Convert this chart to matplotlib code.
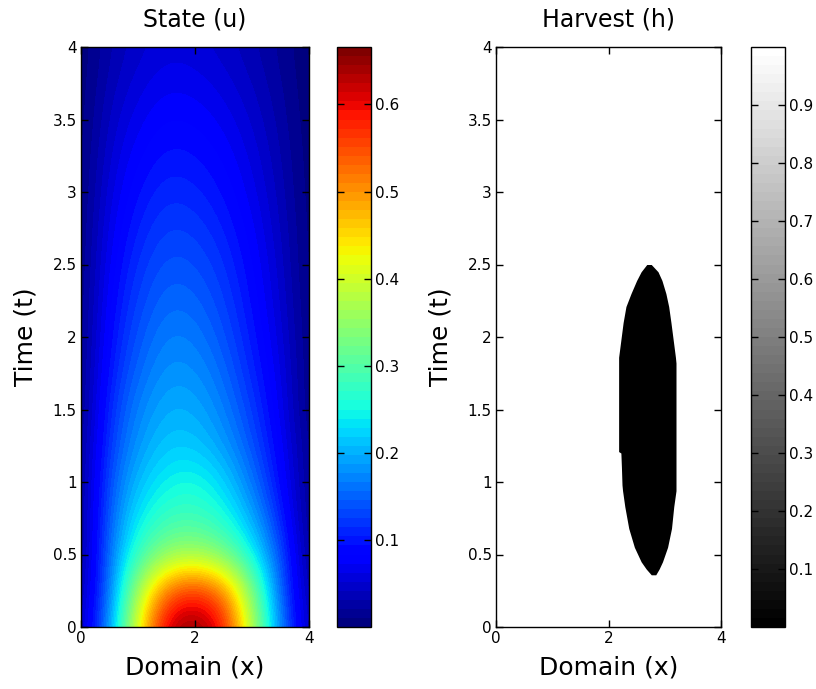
import numpy as np
import matplotlib
matplotlib.use('Agg')
import matplotlib.pyplot as plt
from matplotlib.cm import ScalarMappable
from matplotlib.colors import Normalize
from matplotlib.ticker import FuncFormatter

# ---------------- data ----------------
# state u(x, t): rows are times, columns are x positions
x_grid = [0.0, 0.5, 1.0, 1.5, 2.0, 2.5, 3.0, 3.5, 4.0]
t_grid = [0.0, 0.25, 0.5, 0.75, 1.0, 1.25, 1.5, 1.75, 2.0,
          2.25, 2.5, 2.75, 3.0, 3.25, 3.5, 3.75, 4.0]
u_rows = [
    [0.030, 0.180, 0.420, 0.630, 0.665, 0.600, 0.380, 0.170, 0.030],
    [0.020, 0.160, 0.370, 0.530, 0.575, 0.520, 0.340, 0.150, 0.020],
    [0.010, 0.160, 0.280, 0.350, 0.365, 0.330, 0.250, 0.140, 0.010],
    [0.010, 0.150, 0.240, 0.280, 0.285, 0.260, 0.200, 0.110, 0.010],
    [0.010, 0.140, 0.210, 0.245, 0.255, 0.225, 0.165, 0.090, 0.010],
    [0.010, 0.125, 0.187, 0.217, 0.216, 0.190, 0.140, 0.080, 0.010],
    [0.005, 0.115, 0.172, 0.200, 0.198, 0.170, 0.125, 0.070, 0.005],
    [0.005, 0.102, 0.155, 0.184, 0.181, 0.155, 0.110, 0.065, 0.005],
    [0.005, 0.092, 0.141, 0.170, 0.166, 0.140, 0.100, 0.058, 0.005],
    [0.004, 0.084, 0.129, 0.155, 0.151, 0.128, 0.092, 0.052, 0.004],
    [0.003, 0.076, 0.118, 0.141, 0.137, 0.117, 0.085, 0.047, 0.003],
    [0.003, 0.068, 0.106, 0.127, 0.123, 0.105, 0.077, 0.042, 0.003],
    [0.002, 0.060, 0.094, 0.113, 0.108, 0.093, 0.068, 0.037, 0.002],
    [0.002, 0.052, 0.082, 0.098, 0.095, 0.082, 0.060, 0.032, 0.002],
    [0.001, 0.044, 0.070, 0.085, 0.082, 0.070, 0.051, 0.027, 0.001],
    [0.001, 0.036, 0.058, 0.071, 0.068, 0.058, 0.042, 0.022, 0.001],
    [0.000, 0.030, 0.048, 0.058, 0.056, 0.047, 0.034, 0.018, 0.000],
]
u_max = 0.666

# harvest h: black (h=0) region, left/right edge per time
h_t = [0.36, 0.40, 0.45, 0.55, 0.68, 0.83, 0.94, 0.98, 1.10, 1.20, 1.21,
       1.50, 1.82, 1.86, 1.95, 2.10, 2.21, 2.30, 2.39, 2.45, 2.50]
h_left = [2.76, 2.67, 2.58, 2.46, 2.36, 2.29, 2.25, 2.24, 2.23, 2.22, 2.18,
          2.18, 2.18, 2.18, 2.21, 2.26, 2.31, 2.40, 2.50, 2.58, 2.68]
h_right = [2.84, 2.90, 2.96, 3.05, 3.12, 3.16, 3.20, 3.20, 3.20, 3.20, 3.20,
           3.20, 3.20, 3.19, 3.16, 3.11, 3.07, 3.02, 2.95, 2.88, 2.76]

u_ticks = [0.1, 0.2, 0.3, 0.4, 0.5, 0.6]
h_ticks = [0.1, 0.2, 0.3, 0.4, 0.5, 0.6, 0.7, 0.8, 0.9]

# ---------------- figure ----------------
plt.rcParams['font.family'] = ['DejaVu Sans']
fig = plt.figure(figsize=(8.16, 6.89), dpi=100)

W, H = 816, 689
def box(x0, x1, y0, y1):
    return [x0 / W, 1 - y1 / H, (x1 - x0) / W, (y1 - y0) / H]

ax1 = fig.add_axes(box(81, 309, 47, 627))
cax1 = fig.add_axes(box(337, 371, 47, 627))
ax2 = fig.add_axes(box(496, 721, 47, 627))
cax2 = fig.add_axes(box(751, 785, 47, 627))

fmt = FuncFormatter(lambda v, p: ('%g' % v))

U = np.array(u_rows)
dx = (x_grid[1] - x_grid[0]) / 2
dt = (t_grid[1] - t_grid[0]) / 2
im = ax1.imshow(U, origin='lower', aspect='auto',
                extent=[x_grid[0] - dx, x_grid[-1] + dx, t_grid[0] - dt, t_grid[-1] + dt],
                cmap=plt.get_cmap('jet', 64), vmin=0, vmax=u_max,
                interpolation='bicubic', interpolation_stage='data')

ax2.set_facecolor('white')
ax2.fill_betweenx(h_t, h_left, h_right, color='black', lw=0)
sm = ScalarMappable(norm=Normalize(0, 1), cmap=plt.get_cmap('gray', 64))

for ax, title in [(ax1, 'State (u)'), (ax2, 'Harvest (h)')]:
    ax.set_xlim(0, 4)
    ax.set_ylim(0, 4)
    ax.set_xticks([0, 2, 4])
    ax.set_yticks(np.arange(0, 4.01, 0.5))
    ax.xaxis.set_major_formatter(fmt)
    ax.yaxis.set_major_formatter(fmt)
    ax.tick_params(direction='in', top=True, right=True, length=5, width=1,
                   labelsize=11, pad=3)
    ax.set_title(title, fontsize=17, pad=15)
    ax.set_xlabel('Domain (x)', fontsize=18, labelpad=7)
    ax.set_ylabel('Time (t)', fontsize=18, labelpad=11)
    for s in ax.spines.values():
        s.set_linewidth(1)

cb1 = fig.colorbar(im, cax=cax1, ticks=u_ticks)
cb2 = fig.colorbar(sm, cax=cax2, ticks=h_ticks)
for cb in (cb1, cb2):
    cb.ax.yaxis.set_major_formatter(fmt)
    cb.ax.tick_params(direction='in', left=True, right=True, length=5, width=1,
                      labelsize=11, pad=3)
    cb.outline.set_linewidth(1)

fig.savefig('out.png', dpi=100)
